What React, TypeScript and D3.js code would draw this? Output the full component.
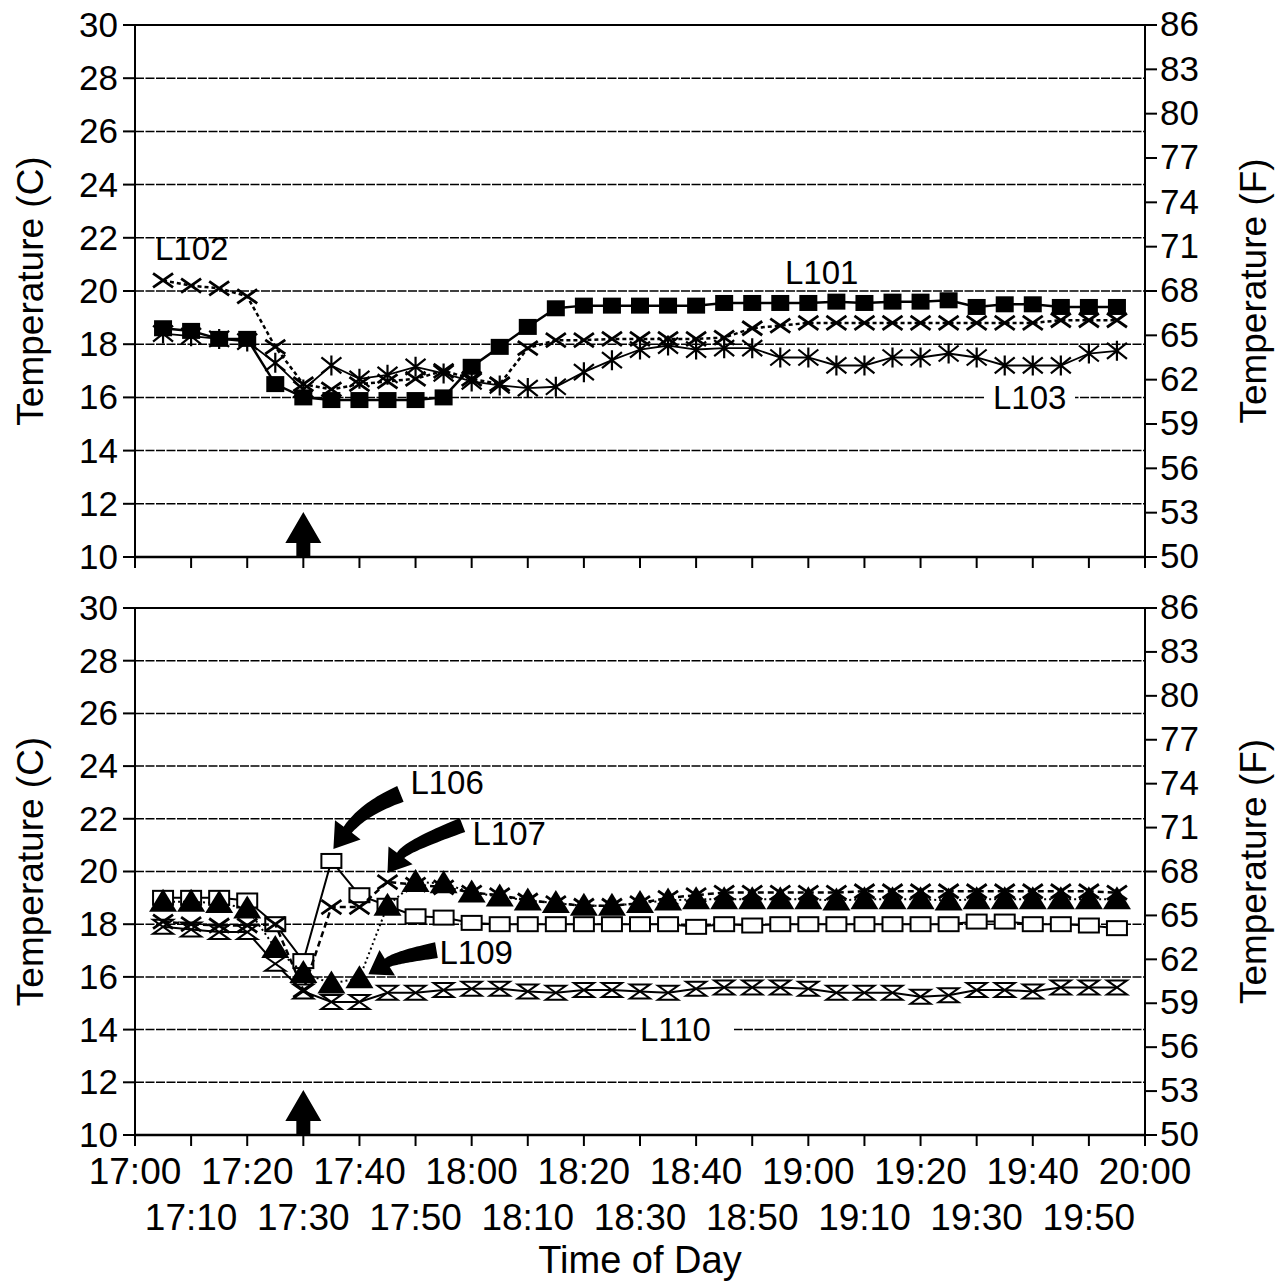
import React from "react";
import * as d3 from "d3";

const times = [
  "17:05", "17:10", "17:15", "17:20", "17:25", "17:30", "17:35", "17:40", "17:45", "17:50", "17:55",
  "18:00", "18:05", "18:10", "18:15", "18:20", "18:25", "18:30", "18:35", "18:40", "18:45", "18:50", "18:55",
  "19:00", "19:05", "19:10", "19:15", "19:20", "19:25", "19:30", "19:35", "19:40", "19:45", "19:50", "19:55",
];
const tickLabelsRow1 = ["17:00", "17:20", "17:40", "18:00", "18:20", "18:40", "19:00", "19:20", "19:40", "20:00"];
const tickLabelsRow2 = ["17:10", "17:30", "17:50", "18:10", "18:30", "18:50", "19:10", "19:30", "19:50"];
const celsiusTicks = [10, 12, 14, 16, 18, 20, 22, 24, 26, 28, 30];
const fahrenheitTicks = [50, 53, 56, 59, 62, 65, 68, 71, 74, 77, 80, 83, 86];

// top panel
const l101 = [18.6, 18.5, 18.2, 18.2, 16.5, 16.0, 15.9, 15.9, 15.9, 15.9, 16.0, 17.15, 17.9, 18.65, 19.35, 19.45, 19.45, 19.45, 19.45, 19.45, 19.55, 19.55, 19.55, 19.55, 19.6, 19.55, 19.6, 19.6, 19.65, 19.4, 19.5, 19.5, 19.4, 19.4, 19.4];
const l102 = [20.4, 20.2, 20.1, 19.8, 17.9, 16.5, 16.3, 16.5, 16.6, 16.7, 17.0, 16.7, 16.5, 17.85, 18.15, 18.15, 18.2, 18.2, 18.2, 18.2, 18.25, 18.6, 18.7, 18.8, 18.8, 18.8, 18.8, 18.8, 18.8, 18.8, 18.8, 18.8, 18.9, 18.9, 18.9];
const l103 = [18.4, 18.3, 18.2, 18.1, 17.3, 16.3, 17.2, 16.7, 16.85, 17.15, 16.9, 16.6, 16.45, 16.35, 16.4, 16.95, 17.4, 17.8, 17.95, 17.8, 17.85, 17.85, 17.5, 17.5, 17.2, 17.2, 17.5, 17.5, 17.65, 17.5, 17.2, 17.2, 17.2, 17.65, 17.75];

// bottom panel
const l106 = [19.0, 19.0, 19.0, 18.9, 18.0, 16.6, 20.4, 19.1, 18.7, 18.3, 18.25, 18.05, 18.0, 18.0, 18.0, 18.0, 18.0, 18.0, 18.0, 17.9, 18.0, 17.95, 18.0, 18.0, 18.0, 18.0, 18.0, 18.0, 18.0, 18.1, 18.1, 18.0, 18.0, 17.95, 17.85];
const l107 = [18.1, 18.0, 17.95, 17.95, 18.0, 15.5, 18.65, 18.65, 19.6, 19.5, 19.4, 19.2, 19.1, 18.9, 18.8, 18.7, 18.7, 18.8, 19.0, 19.1, 19.2, 19.2, 19.2, 19.2, 19.2, 19.25, 19.25, 19.25, 19.25, 19.25, 19.25, 19.25, 19.25, 19.25, 19.2];
const l109 = [18.85, 18.85, 18.8, 18.6, 17.1, 16.15, 15.75, 15.95, 18.7, 19.6, 19.55, 19.2, 19.05, 18.9, 18.8, 18.7, 18.7, 18.8, 18.9, 18.95, 18.95, 18.95, 18.95, 18.95, 18.9, 18.95, 18.95, 18.95, 18.9, 18.95, 18.95, 18.95, 18.95, 18.95, 18.95];
const l110 = [17.9, 17.8, 17.7, 17.7, 16.5, 15.45, 15.05, 15.05, 15.4, 15.4, 15.5, 15.55, 15.55, 15.45, 15.4, 15.5, 15.5, 15.45, 15.4, 15.55, 15.6, 15.6, 15.6, 15.55, 15.4, 15.4, 15.4, 15.25, 15.3, 15.5, 15.5, 15.45, 15.6, 15.6, 15.6];

const FONT = "'Liberation Sans', Arial, sans-serif";
const parse = d3.timeParse("%H:%M");
const x = d3.scaleTime().domain([parse("17:00"), parse("20:00")]).range([135, 1145]);

const markers = {
  fsquare: (k) => <rect key={k} x={-9} y={-8} width={18} height={16} fill="#000" />,
  osquare: (k) => <rect key={k} x={-10} y={-7} width={20} height={14} fill="#fff" stroke="#000" strokeWidth={2} />,
  cross: (k) => <path key={k} d="M-10,-7L10,7M-10,7L10,-7" stroke="#000" strokeWidth={2.8} fill="none" />,
  star: (k) => <path key={k} d="M-10,-8L10,8M-10,8L10,-8M0,-10L0,10" stroke="#000" strokeWidth={2.2} fill="none" />,
  tri: (k) => <path key={k} d="M0,-13L14,10L-14,10Z" fill="#000" />,
  glass: (k) => <path key={k} d="M-10,-7L10,-7L-10,7L10,7Z" fill="#fff" stroke="#000" strokeWidth={2} />,
};

function curvedArrow(tail, ctrl, tip, bodyW, headLen, headW) {
  const dx = tip[0] - ctrl[0], dy = tip[1] - ctrl[1];
  const len = Math.hypot(dx, dy);
  const ux = dx / len, uy = dy / len;
  const hb = [tip[0] - ux * headLen, tip[1] - uy * headLen];
  const left = [], right = [];
  const n = 24;
  for (let i = 0; i <= n; i++) {
    const t = i / n;
    const px = (1 - t) * (1 - t) * tail[0] + 2 * (1 - t) * t * ctrl[0] + t * t * hb[0];
    const py = (1 - t) * (1 - t) * tail[1] + 2 * (1 - t) * t * ctrl[1] + t * t * hb[1];
    const tx = 2 * (1 - t) * (ctrl[0] - tail[0]) + 2 * t * (hb[0] - ctrl[0]);
    const ty = 2 * (1 - t) * (ctrl[1] - tail[1]) + 2 * t * (hb[1] - ctrl[1]);
    const tl = Math.hypot(tx, ty);
    const nx = -ty / tl, ny = tx / tl;
    const w = (bodyW * (1 - 0.4 * t)) / 2;
    left.push([px + nx * w, py + ny * w]);
    right.push([px - nx * w, py - ny * w]);
  }
  const nx = -uy, ny = ux;
  const pts = [
    ...left,
    [hb[0] + nx * headW / 2, hb[1] + ny * headW / 2],
    tip,
    [hb[0] - nx * headW / 2, hb[1] - ny * headW / 2],
    ...right.reverse(),
  ];
  return "M" + pts.map((p) => p[0].toFixed(1) + "," + p[1].toFixed(1)).join("L") + "Z";
}

function Panel({ top, bottom, series, showX, children }) {
  const yC = d3.scaleLinear().domain([10, 30]).range([bottom, top]);
  const yF = d3.scaleLinear().domain([50, 86]).range([bottom, top]);
  const allTicks = [...tickLabelsRow1, ...tickLabelsRow2];
  const [x0, x1] = x.range();
  const mid = (top + bottom) / 2;
  const arrowX = x(parse("17:30"));

  return (
    <g fontFamily={FONT}>
      {celsiusTicks.filter((v) => v > 10 && v < 30).map((v) => (
        <line key={"g" + v} x1={x0} x2={x1} y1={yC(v)} y2={yC(v)} stroke="#000" strokeWidth={1.5} strokeDasharray="9 1.5" />
      ))}
      <line x1={x0 - 12} x2={x1 + 12} y1={top} y2={top} stroke="#000" strokeWidth={2} />
      <line x1={x0} x2={x0} y1={top} y2={bottom} stroke="#000" strokeWidth={2} />
      <line x1={x1} x2={x1} y1={top} y2={bottom} stroke="#000" strokeWidth={2} />
      <line x1={x0} x2={x1} y1={bottom} y2={bottom} stroke="#000" strokeWidth={2.5} />

      {celsiusTicks.map((v) => (
        <g key={"c" + v}>
          <line x1={x0 - 12} x2={x0} y1={yC(v)} y2={yC(v)} stroke="#000" strokeWidth={2} />
          <text x={118} y={yC(v)} dy="0.34em" textAnchor="end" fontSize={35}>{v}</text>
        </g>
      ))}
      {fahrenheitTicks.map((v) => (
        <g key={"f" + v}>
          <line x1={x1} x2={x1 + 12} y1={yF(v)} y2={yF(v)} stroke="#000" strokeWidth={2} />
          <text x={1160} y={yF(v)} dy="0.32em" textAnchor="start" fontSize={35}>{v}</text>
        </g>
      ))}
      {allTicks.map((t) => (
        <line key={"t" + t} x1={x(parse(t))} x2={x(parse(t))} y1={bottom} y2={bottom + 11} stroke="#000" strokeWidth={2} />
      ))}
      {showX && tickLabelsRow1.map((t) => (
        <text key={"r1" + t} x={x(parse(t))} y={1184} textAnchor="middle" fontSize={37}>{t}</text>
      ))}
      {showX && tickLabelsRow2.map((t) => (
        <text key={"r2" + t} x={x(parse(t))} y={1230} textAnchor="middle" fontSize={37}>{t}</text>
      ))}

      <text transform={`translate(43,${mid}) rotate(-90)`} textAnchor="middle" fontSize={37}>Temperature (C)</text>
      <text transform={`translate(1266,${mid}) rotate(-90)`} textAnchor="middle" fontSize={37}>Temperature (F)</text>

      {series.map((s) => {
        const pts = s.values.map((v, i) => [x(parse(times[i])), yC(v)]);
        return (
          <g key={s.name}>
            <path d={d3.line()(pts)} fill="none" stroke="#000" strokeWidth={s.width} strokeDasharray={s.dash} />
            {pts.map((p, i) => (
              <g key={i} transform={`translate(${p[0]},${p[1]})`}>{markers[s.marker](i)}</g>
            ))}
          </g>
        );
      })}

      <path
        d={`M${arrowX},${bottom - 45}L${arrowX + 18},${bottom - 14}L${arrowX + 7},${bottom - 14}L${arrowX + 7},${bottom}L${arrowX - 7},${bottom}L${arrowX - 7},${bottom - 14}L${arrowX - 18},${bottom - 14}Z`}
        fill="#000"
      />
      {children && children(yC)}
    </g>
  );
}

export default function App() {
  const topSeries = [
    { name: "L103", values: l103, marker: "star", width: 1.8, dash: null },
    { name: "L102", values: l102, marker: "cross", width: 2.5, dash: "4 3" },
    { name: "L101", values: l101, marker: "fsquare", width: 2.5, dash: null },
  ];
  const bottomSeries = [
    { name: "L110", values: l110, marker: "glass", width: 2, dash: null },
    { name: "L106", values: l106, marker: "osquare", width: 2, dash: null },
    { name: "L109", values: l109, marker: "tri", width: 2, dash: "2 3" },
    { name: "L107", values: l107, marker: "cross", width: 2.5, dash: "6 4" },
  ];
  const at = (t, v, yC) => [x(parse(t)), yC(v)];
  const off = (p, dx, dy) => [p[0] + dx, p[1] + dy];

  return (
    <svg width={1283} height={1282} style={{ position: "absolute", left: 0, top: 0, background: "#fff" }}>
      <rect width={1283} height={1282} fill="#fff" />
      <Panel top={25} bottom={557} series={topSeries} showX={false}>
        {(yC) => (
          <g fontSize={33}>
            <text x={155} y={260}>L102</text>
            <text x={785} y={284}>L101</text>
            <rect x={985} y={yC(16) - 14} width={90} height={28} fill="#fff" />
            <text x={993} y={yC(16)} dy="0.36em">L103</text>
          </g>
        )}
      </Panel>
      <Panel top={608} bottom={1135} series={bottomSeries} showX={true}>
        {(yC) => {
          const tip106 = off(at("17:35", l106[6], yC), 2, -12);
          const tip107 = off(at("17:45", l107[8], yC), 0, -9);
          const tip109 = off(at("17:40", l109[7], yC), 9, -4);
          return (
            <g fontSize={33}>
              <path d={curvedArrow(off(tip106, 67, -55), off(tip106, 30, -40), tip106, 17, 24, 32)} fill="#000" />
              <path d={curvedArrow(off(tip107, 75, -48), off(tip107, 20, -27), tip107, 15, 22, 30)} fill="#000" />
              <path d={curvedArrow(off(tip109, 68, -24), off(tip109, 28, -17), tip109, 16, 22, 30)} fill="#000" />
              <text x={tip106[0] + 77} y={tip106[1] - 55}>L106</text>
              <text x={tip107[0] + 85} y={tip107[1] - 28}>L107</text>
              <text x={tip109[0] + 71} y={tip109[1] - 10}>L109</text>
              <rect x={636} y={yC(14) - 14} width={98} height={28} fill="#fff" />
              <text x={640} y={yC(14)} dy="0.36em">L110</text>
            </g>
          );
        }}
      </Panel>
      <text x={640} y={1273} textAnchor="middle" fontSize={38} fontFamily={FONT}>Time of Day</text>
    </svg>
  );
}
